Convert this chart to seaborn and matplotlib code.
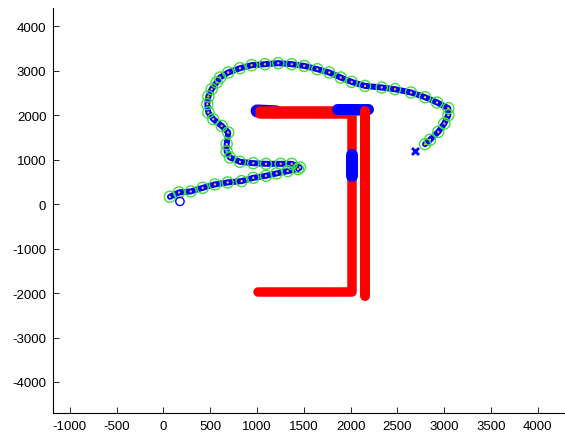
import matplotlib
matplotlib.use("Agg")
import matplotlib.pyplot as plt
import seaborn as sns
import pandas as pd

# Reference trajectory (green circles) and the tracked path drawn through it
track_x = [69, 166, 291, 419, 550, 686, 835, 959, 1095, 1209, 1327, 1437, 1458,
           1370, 1252, 1095, 959, 817, 710, 675, 675, 692, 622, 532, 479, 468,
           479, 515, 568, 604, 692, 817, 942, 1084, 1226, 1370, 1504, 1643, 1771,
           1893, 2011, 2153, 2331, 2473, 2644, 2794, 2922, 3043, 3043, 3000, 2936,
           2847, 2794]
track_y = [164, 263, 285, 366, 443, 488, 517, 591, 636, 690, 742, 787, 825,
           906, 906, 906, 921, 951, 1049, 1184, 1348, 1611, 1760, 1910, 2061, 2247,
           2420, 2584, 2735, 2847, 2960, 3056, 3124, 3146, 3169, 3146, 3108, 3034, 2960,
           2847, 2748, 2658, 2622, 2584, 2510, 2404, 2285, 2157, 2000, 1813, 1625,
           1445, 1348]

start_x, start_y = [176], [61]
end_x, end_y = [2687], [1198]

# Odometry-style paths (red)
outer_x = [1030, 2153, 2153]
outer_y = [2100, 2100, -2067]
inner_x = [1013, 2011, 2011, 1030]
inner_y = [-1978, -1978, 2035, 2035]

# Short blue stretches lying over the red paths
blob_x = [1000, 1200]
blob_y = [2095, 2075]
top_x = [1850, 2180]
top_y = [2128, 2128]
vert_x = [2011, 2011]
vert_y = [1100, 630]

sns.set_style("white")
plt.rcParams["font.family"] = ["Liberation Sans", "DejaVu Sans"]
plt.rcParams["axes.unicode_minus"] = False

fig = plt.figure(figsize=(5.65, 4.35), dpi=100)
ax = fig.add_axes([0.0943, 0.0483, 0.904, 0.930])

PX = 72 / 100  # points per pixel

def path(x, y, color, width_px, z):
    df = pd.DataFrame({"x": x, "y": y})
    sns.lineplot(data=df, x="x", y="y", sort=False, estimator=None, ax=ax,
                 color=color, linewidth=width_px * PX, solid_capstyle="round",
                 solid_joinstyle="round", zorder=z)

path(blob_x, blob_y, "#0000ff", 13, 2)
path(inner_x, inner_y, "#ff0000", 9.5, 3)
path(outer_x[:2], outer_y[:2], "#ff0000", 9.5, 3)
path(top_x, top_y, "#0000ff", 11, 4)
path(outer_x[1:], outer_y[1:], "#ff0000", 10, 5)
path(vert_x, vert_y, "#0000ff", 12, 6)

track = pd.DataFrame({"x": track_x, "y": track_y})
path(track_x, track_y, "#0000ff", 6, 7)
sns.scatterplot(data=track, x="x", y="y", ax=ax, marker="o", s=3,
                color="#e8c020", edgecolor="none", zorder=8)
sns.scatterplot(data=track, x="x", y="y", ax=ax, marker="o", s=64,
                facecolor="none", edgecolor="#3fe03f", linewidth=1.0, zorder=9)
sns.scatterplot(x=start_x, y=start_y, ax=ax, marker="o", s=36,
                facecolor="none", edgecolor="#0000ff", linewidth=1.0, zorder=9)
sns.scatterplot(x=end_x, y=end_y, ax=ax, marker="x", s=25,
                color="#0000ff", linewidth=2.0, zorder=9)

ax.set_xlim(-1177, 4279)
ax.set_ylim(-4697, 4400)
ax.set_xticks(range(-1000, 4001, 500))
ax.set_yticks(range(-4000, 4001, 1000))
ax.set_xlabel("")
ax.set_ylabel("")
for side in ("top", "right"):
    ax.spines[side].set_visible(False)
for side in ("left", "bottom"):
    ax.spines[side].set_color("black")
    ax.spines[side].set_linewidth(0.8)
ax.tick_params(direction="in", length=4, width=0.6, color="black",
               labelsize=9.5, labelcolor="black", pad=5,
               left=True, bottom=True)

fig.savefig("out.png", dpi=100)
